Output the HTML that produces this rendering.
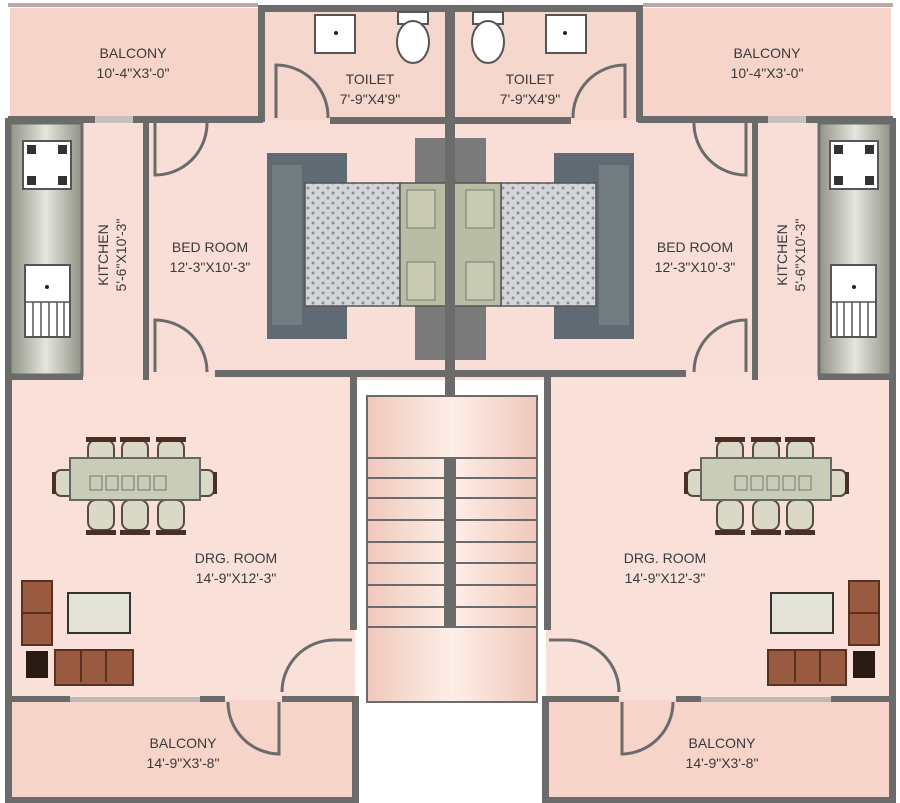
<!DOCTYPE html>
<html><head><style>
html,body{margin:0;padding:0;background:#fff;}
svg{display:block}
text{font-family:"Liberation Sans",sans-serif;font-size:14px;fill:#3a3a3a;text-anchor:middle}
</style></head><body>
<svg width="900" height="803" viewBox="0 0 900 803" xmlns="http://www.w3.org/2000/svg">
<defs>
<pattern id="dots" width="10" height="10" patternUnits="userSpaceOnUse"><rect width="10" height="10" fill="#d3d5d8"/><circle cx="3" cy="3" r="1.5" fill="#8a8f96"/><circle cx="8" cy="8" r="1.5" fill="#8a8f96"/></pattern>
<linearGradient id="step" x1="0" y1="0" x2="1" y2="0"><stop offset="0" stop-color="#f0c8bb"/><stop offset="0.5" stop-color="#fdeee8"/><stop offset="1" stop-color="#f0c8bb"/></linearGradient>
<linearGradient id="counter" x1="0" y1="0" x2="1" y2="0"><stop offset="0" stop-color="#8f9486"/><stop offset="0.5" stop-color="#e6e6df"/><stop offset="1" stop-color="#8f9486"/></linearGradient>
<g id="half">
 <rect x="10" y="8" width="250" height="110" fill="#f6d4ca"/>
 <rect x="263" y="10" width="185" height="110" fill="#f6d7cd"/>
 <rect x="10" y="120" width="440" height="260" fill="#f8ded6"/>
 <rect x="10" y="378" width="345" height="322" fill="#f9e0d9"/>
 <rect x="10" y="700" width="345" height="100" fill="#f6d4ca"/>
 <rect x="8" y="3" width="250" height="4" fill="#b9a9a5"/>
 <rect x="258" y="5" width="7" height="117" fill="#6b6b6b"/>
 <rect x="258" y="5" width="192" height="7" fill="#6b6b6b"/>
 <rect x="8" y="116" width="255" height="7" fill="#6b6b6b"/>
 <rect x="95" y="116" width="38" height="7" fill="#c8c0bc"/>
 <rect x="215" y="116" width="48" height="7" fill="#6b6b6b"/>
 <rect x="330" y="117" width="120" height="7" fill="#6b6b6b"/>
 <rect x="5" y="118" width="7" height="682" fill="#6b6b6b"/>
 <rect x="143" y="118" width="6" height="262" fill="#6b6b6b"/>
 <rect x="8" y="373" width="75" height="7" fill="#6b6b6b"/>
 <rect x="215" y="370" width="235" height="7" fill="#6b6b6b"/>
 <rect x="350" y="375" width="7" height="255" fill="#6b6b6b"/>
 <rect x="10" y="696" width="60" height="6" fill="#6b6b6b"/>
 <rect x="70" y="697" width="130" height="5" fill="#c0b8b4"/>
 <rect x="200" y="696" width="25" height="6" fill="#6b6b6b"/>
 <rect x="282" y="696" width="76" height="6" fill="#6b6b6b"/>
 <rect x="352" y="696" width="7" height="107" fill="#6b6b6b"/>
 <rect x="5" y="797" width="354" height="6" fill="#6b6b6b"/>
 <g fill="none" stroke="#6b6b6b" stroke-width="3">
  <path d="M276 118 V65 A52 52 0 0 1 328 118"/>
  <path d="M155 123 V175 A52 52 0 0 0 207 123"/>
  <path d="M155 372 V320 A52 52 0 0 1 207 372"/>
  <path d="M282 692 A52 52 0 0 1 334 640 H352"/>
  <path d="M228 702 A52 52 0 0 0 279 754 V702"/>
 </g>
 <rect x="10" y="123" width="72" height="252" fill="url(#counter)" stroke="#6b6b6b" stroke-width="3"/>
 <rect x="23" y="141" width="48" height="48" fill="#fff" stroke="#555" stroke-width="2"/>
 <g fill="#333"><rect x="27" y="145" width="9" height="9"/><rect x="58" y="145" width="9" height="9"/><rect x="27" y="176" width="9" height="9"/><rect x="58" y="176" width="9" height="9"/></g>
 <rect x="25" y="265" width="45" height="72" fill="#fff" stroke="#555" stroke-width="2"/>
 <circle cx="47" cy="287" r="2" fill="#222"/>
 <g stroke="#555" stroke-width="1.5"><line x1="25" y1="302" x2="70" y2="302"/><line x1="33" y1="302" x2="33" y2="337"/><line x1="41" y1="302" x2="41" y2="337"/><line x1="49" y1="302" x2="49" y2="337"/><line x1="57" y1="302" x2="57" y2="337"/><line x1="64" y1="302" x2="64" y2="337"/></g>
 <rect x="315" y="15" width="40" height="38" fill="#fff" stroke="#555" stroke-width="2"/>
 <circle cx="336" cy="33" r="2" fill="#222"/>
 <rect x="398" y="12" width="30" height="12" fill="#fff" stroke="#555" stroke-width="2"/>
 <ellipse cx="413" cy="42" rx="16" ry="21" fill="#fff" stroke="#555" stroke-width="2"/>
 <rect x="267" y="153" width="80" height="186" fill="#5f6a72"/>
 <rect x="272" y="165" width="30" height="160" fill="#808a8c" opacity="0.6"/>
 <rect x="415" y="138" width="32" height="222" fill="#7a7a7a"/>
 <rect x="305" y="183" width="95" height="123" fill="url(#dots)" stroke="#555" stroke-width="1.5"/>
 <rect x="400" y="183" width="47" height="123" fill="#b9bda4" stroke="#555" stroke-width="1.5"/>
 <rect x="407" y="190" width="28" height="38" fill="#c8cbb2" stroke="#777"/>
 <rect x="407" y="262" width="28" height="38" fill="#c8cbb2" stroke="#777"/>
 <g fill="#d9d9c6" stroke="#5a4a44" stroke-width="2">
  <rect x="88" y="440" width="26" height="30" rx="8"/><rect x="122" y="440" width="26" height="30" rx="8"/><rect x="158" y="440" width="26" height="30" rx="8"/>
  <rect x="88" y="500" width="26" height="30" rx="8"/><rect x="122" y="500" width="26" height="30" rx="8"/><rect x="158" y="500" width="26" height="30" rx="8"/>
  <rect x="55" y="470" width="22" height="26" rx="6"/><rect x="192" y="470" width="22" height="26" rx="6"/>
  <rect x="70" y="458" width="130" height="42" fill="#c9ccb6" stroke="#666"/>
 </g>
 <g fill="#4a2f25"><rect x="86" y="437" width="30" height="5"/><rect x="120" y="437" width="30" height="5"/><rect x="156" y="437" width="30" height="5"/><rect x="86" y="530" width="30" height="5"/><rect x="120" y="530" width="30" height="5"/><rect x="156" y="530" width="30" height="5"/><rect x="52" y="472" width="4" height="22"/><rect x="213" y="472" width="4" height="22"/></g>
 <g fill="none" stroke="#777"><rect x="90" y="476" width="12" height="14"/><rect x="106" y="476" width="12" height="14"/><rect x="122" y="476" width="12" height="14"/><rect x="138" y="476" width="12" height="14"/><rect x="154" y="476" width="12" height="14"/></g>
 <rect x="22" y="581" width="30" height="64" fill="#9a5a40" stroke="#5a3020" stroke-width="2"/>
 <line x1="22" y1="613" x2="52" y2="613" stroke="#5a3020" stroke-width="2"/>
 <rect x="68" y="593" width="62" height="40" fill="#e2e2d6" stroke="#333" stroke-width="2"/>
 <rect x="26" y="651" width="22" height="27" fill="#2a1a14"/>
 <rect x="55" y="650" width="78" height="35" fill="#9a5a40" stroke="#5a3020" stroke-width="2"/>
 <line x1="81" y1="650" x2="81" y2="682" stroke="#5a3020" stroke-width="2"/><line x1="106" y1="650" x2="106" y2="682" stroke="#5a3020" stroke-width="2"/>
</g>
</defs>
<use href="#half"/>
<use href="#half" transform="translate(901,0) scale(-1,1)"/>
<rect x="445" y="5" width="10" height="395" fill="#6b6b6b"/>
<rect x="367" y="396" width="170" height="306" fill="url(#step)" stroke="#6b6b6b" stroke-width="2"/>
<g stroke="#6b6b6b" stroke-width="2">
 <line x1="367" y1="458" x2="537" y2="458"/><line x1="367" y1="478" x2="537" y2="478"/><line x1="367" y1="498" x2="537" y2="498"/><line x1="367" y1="520" x2="537" y2="520"/><line x1="367" y1="542" x2="537" y2="542"/><line x1="367" y1="563" x2="537" y2="563"/><line x1="367" y1="585" x2="537" y2="585"/><line x1="367" y1="607" x2="537" y2="607"/><line x1="367" y1="627" x2="537" y2="627"/>
</g>
<rect x="444" y="458" width="12" height="170" fill="#6b6b6b"/>
<text x="133" y="58">BALCONY</text><text x="133" y="78">10'-4"X3'-0"</text>
<text x="767" y="58">BALCONY</text><text x="767" y="78">10'-4"X3'-0"</text>
<text x="370" y="84">TOILET</text><text x="370" y="104">7'-9"X4'9"</text>
<text x="530" y="84">TOILET</text><text x="530" y="104">7'-9"X4'9"</text>
<text x="210" y="252">BED ROOM</text><text x="210" y="272">12'-3"X10'-3"</text>
<text x="695" y="252">BED ROOM</text><text x="695" y="272">12'-3"X10'-3"</text>
<text transform="translate(108,255) rotate(-90)">KITCHEN</text><text transform="translate(126,255) rotate(-90)">5'-6"X10'-3"</text>
<text transform="translate(787,255) rotate(-90)">KITCHEN</text><text transform="translate(805,255) rotate(-90)">5'-6"X10'-3"</text>
<text x="236" y="563">DRG. ROOM</text><text x="236" y="583">14'-9"X12'-3"</text>
<text x="665" y="563">DRG. ROOM</text><text x="665" y="583">14'-9"X12'-3"</text>
<text x="183" y="748">BALCONY</text><text x="183" y="768">14'-9"X3'-8"</text>
<text x="722" y="748">BALCONY</text><text x="722" y="768">14'-9"X3'-8"</text>
</svg>
</body></html>
